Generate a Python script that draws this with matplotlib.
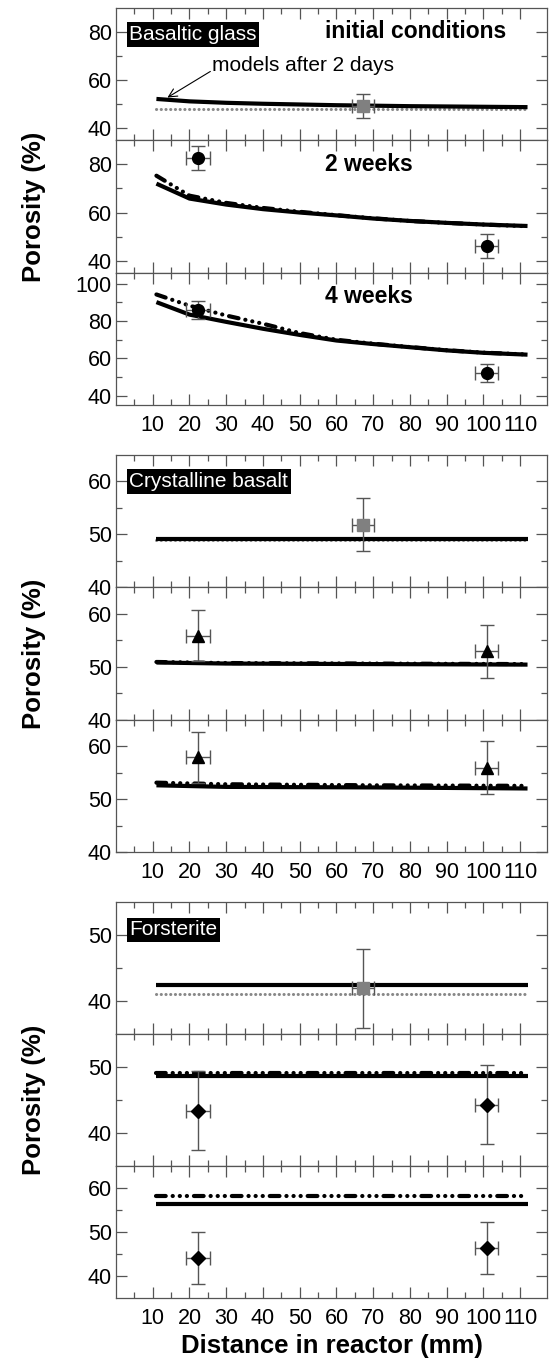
import matplotlib
matplotlib.use('Agg')
import matplotlib.pyplot as plt
import matplotlib.transforms as mtransforms
from matplotlib.ticker import FixedLocator

plt.rcParams['font.family'] = ['Liberation Sans', 'DejaVu Sans']
plt.rcParams['lines.scale_dashes'] = False

# ---- data -------------------------------------------------------------
flat_x = [11, 112]
curve_x = [11, 20, 30, 40, 50, 60, 70, 80, 90, 100, 112]
obs_x = [22.3, 100.9]
init_x = 67.2

# basaltic glass
glass_init = [48.1, 48.1]
glass_2d_x = [11, 20, 30, 40, 60, 80, 112]
glass_2d = [52.2, 51.2, 50.6, 50.2, 49.6, 49.2, 48.8]
glass_2w_a = [72.0, 65.8, 63.3, 61.4, 60.0, 58.8, 57.5, 56.5, 55.7, 55.0, 54.4]
glass_2w_b = [75.3, 67.0, 64.0, 61.9, 60.3, 58.9, 57.6, 56.5, 55.7, 55.0, 54.3]
glass_4w_a = [90.2, 83.5, 79.6, 75.9, 72.6, 69.6, 67.7, 66.0, 64.3, 63.0, 62.0]
glass_4w_b = [94.3, 88.3, 83.0, 78.6, 73.6, 70.0, 67.9, 66.1, 64.4, 63.1, 62.1]
glass_sq, glass_sq_err = 49.3, 5.0
glass_2w_obs, glass_2w_err = [82.5, 46.1], [5.0, 5.0]
glass_4w_obs, glass_4w_err = [85.9, 52.1], [5.0, 4.9]

# crystalline basalt
cryst_x = [11, 30, 70, 112]
cryst_init = [48.9, 48.9, 48.9, 48.9]
cryst_2d = [49.2, 49.2, 49.2, 49.2]
cryst_2w_a = [50.8, 50.6, 50.5, 50.4]
cryst_2w_b = [50.9, 50.7, 50.6, 50.5]
cryst_4w_a = [52.6, 52.3, 52.2, 52.0]
cryst_4w_b = [53.1, 52.8, 52.6, 52.5]
cryst_sq, cryst_sq_err = 51.8, 5.0
cryst_2w_obs, cryst_2w_err = [55.9, 52.9], [4.9, 5.0]
cryst_4w_obs, cryst_4w_err = [57.9, 55.9], [4.8, 5.0]

# forsterite
fo_init = [41.1, 41.1]
fo_2d = [42.4, 42.4]
fo_2w_a = [48.7, 48.7]
fo_2w_b = [49.1, 49.1]
fo_4w_a = [56.4, 56.4]
fo_4w_b = [58.1, 58.1]
fo_sq, fo_sq_err = 41.9, 6.0
fo_2w_obs, fo_2w_err = [43.4, 44.3], [6.0, 6.0]
fo_4w_obs, fo_4w_err = [44.1, 46.3], [6.0, 5.9]

xticks = list(range(10, 111, 10))
xminor = list(range(5, 110, 10))

# ---- styles -----------------------------------------------------------
GREY = '#555555'
DDOT = (0, (7, 5, 0.1, 5, 0.1, 5, 0.1, 5))
DOTS = (0, (0.1, 3.3))
FIG_H = 1362.0


def solid(ax, x, y):
    ax.plot(x, y, color='black', lw=3.0, solid_capstyle='butt', zorder=3)


def ddot(ax, x, y):
    ax.plot(x, y, color='black', lw=3.0, ls=DDOT, dash_capstyle='round', zorder=3)


def grey_dots(ax, x, y):
    ax.plot(x, y, color='#888888', lw=2.2, ls=DOTS, dash_capstyle='round', zorder=2)


def obs(ax, x, y, yerr, marker, ms, color='black', xerr=3.2):
    ax.errorbar(x, y, yerr=yerr, xerr=xerr, fmt=marker, ms=ms, color=color,
                mec=color, ecolor=GREY, elinewidth=1.0, capsize=5, capthick=1.0,
                zorder=5)


def style(ax, ylim, major, minor, show_x):
    ax.set_xlim(0, 117.3)
    ax.set_ylim(*ylim)
    ax.xaxis.set_major_locator(FixedLocator(xticks))
    ax.xaxis.set_minor_locator(FixedLocator(xminor))
    ax.yaxis.set_major_locator(FixedLocator(major))
    ax.yaxis.set_minor_locator(FixedLocator(minor))
    ax.tick_params(which='both', direction='in', top=True, right=True,
                   color=GREY, width=0.9, labelsize=15.5, pad=3)
    ax.tick_params(which='major', length=8)
    ax.tick_params(which='minor', length=4.5)
    ax.tick_params(axis='x', which='both', labelbottom=show_x, pad=7)
    for s in ax.spines.values():
        s.set_color(GREY)
        s.set_linewidth(0.9)


def label_box(ax, text, x=3.6, y=0.80):
    tr = mtransforms.blended_transform_factory(ax.transData, ax.transAxes)
    ax.text(x, y, text, transform=tr, color='white', fontsize=15,
            ha='left', va='center',
            bbox=dict(facecolor='black', edgecolor='none', pad=2.0))


def stage(ax, text, y=0.82):
    tr = mtransforms.blended_transform_factory(ax.transData, ax.transAxes)
    ax.text(57, y, text, transform=tr, fontsize=16.5, fontweight='bold',
            ha='left', va='center')


fig = plt.figure(figsize=(5.52, 13.62), dpi=100)
left_px, right_px = 116, 547
groups_px = [(8, 405), (455, 852), (902, 1298)]


def make_axes(top_px, bot_px):
    h = (bot_px - top_px) / 3.0
    axs = []
    for i in range(3):
        t = top_px + i * h
        rect = [left_px / 552.0, 1 - (t + h) / FIG_H,
                (right_px - left_px) / 552.0, h / FIG_H]
        axs.append(fig.add_axes(rect))
    return axs


# ---- basaltic glass ---------------------------------------------------
a1, a2, a3 = make_axes(*groups_px[0])
grey_dots(a1, flat_x, glass_init)
solid(a1, glass_2d_x, glass_2d)
obs(a1, init_x, glass_sq, glass_sq_err, 's', 9, color='#808080', xerr=3.0)
label_box(a1, 'Basaltic glass')
stage(a1, 'initial conditions')
a1.annotate('models after 2 days', xy=(14, 52.8), xytext=(26, 66.3),
            fontsize=15, ha='left', va='center',
            arrowprops=dict(arrowstyle='->', color='black', lw=0.8,
                            shrinkA=1, shrinkB=0,
                            patchA=None, relpos=(0, 0.2)))
style(a1, (35, 90), [40, 60, 80], [50, 70], False)

ddot(a2, curve_x, glass_2w_b)
solid(a2, curve_x, glass_2w_a)
obs(a2, obs_x, glass_2w_obs, glass_2w_err, 'o', 8.5)
stage(a2, '2 weeks')
style(a2, (35, 90), [40, 60, 80], [50, 70], False)

ddot(a3, curve_x, glass_4w_b)
solid(a3, curve_x, glass_4w_a)
obs(a3, obs_x, glass_4w_obs, glass_4w_err, 'o', 8.5)
stage(a3, '4 weeks')
style(a3, (35, 106), [40, 60, 80, 100], [50, 70, 90], True)

# ---- crystalline basalt -----------------------------------------------
b1, b2, b3 = make_axes(*groups_px[1])
grey_dots(b1, cryst_x, cryst_init)
solid(b1, cryst_x, cryst_2d)
obs(b1, init_x, cryst_sq, cryst_sq_err, 's', 9, color='#808080', xerr=3.0)
label_box(b1, 'Crystalline basalt')
style(b1, (40, 65), [40, 50, 60], [45, 55], False)

ddot(b2, cryst_x, cryst_2w_b)
solid(b2, cryst_x, cryst_2w_a)
obs(b2, obs_x, cryst_2w_obs, cryst_2w_err, '^', 8)
style(b2, (40, 65), [40, 50, 60], [45, 55], False)

ddot(b3, cryst_x, cryst_4w_b)
solid(b3, cryst_x, cryst_4w_a)
obs(b3, obs_x, cryst_4w_obs, cryst_4w_err, '^', 8)
style(b3, (40, 65), [40, 50, 60], [45, 55], True)

# ---- forsterite -------------------------------------------------------
c1, c2, c3 = make_axes(*groups_px[2])
grey_dots(c1, flat_x, fo_init)
solid(c1, flat_x, fo_2d)
obs(c1, init_x, fo_sq, fo_sq_err, 's', 9, color='#808080', xerr=3.0)
label_box(c1, 'Forsterite', y=0.79)
style(c1, (35, 55), [40, 50], [45], False)

ddot(c2, flat_x, fo_2w_b)
solid(c2, flat_x, fo_2w_a)
obs(c2, obs_x, fo_2w_obs, fo_2w_err, 'D', 7.5)
style(c2, (35, 55), [40, 50], [45], False)

ddot(c3, flat_x, fo_4w_b)
solid(c3, flat_x, fo_4w_a)
obs(c3, obs_x, fo_4w_obs, fo_4w_err, 'D', 7.5)
style(c3, (35, 65), [40, 50, 60], [45, 55], True)

# ---- labels -----------------------------------------------------------
for top, bot in groups_px:
    fig.text(34 / 552.0, 1 - (top + bot) / 2 / FIG_H, 'Porosity (%)',
             rotation=90, ha='center', va='center', fontsize=18.5,
             fontweight='bold')

fig.text((left_px + right_px) / 2 / 552.0, 1 - 1346 / FIG_H,
         'Distance in reactor (mm)', ha='center', va='center',
         fontsize=18.5, fontweight='bold')

fig.savefig('out.png', dpi=100)
